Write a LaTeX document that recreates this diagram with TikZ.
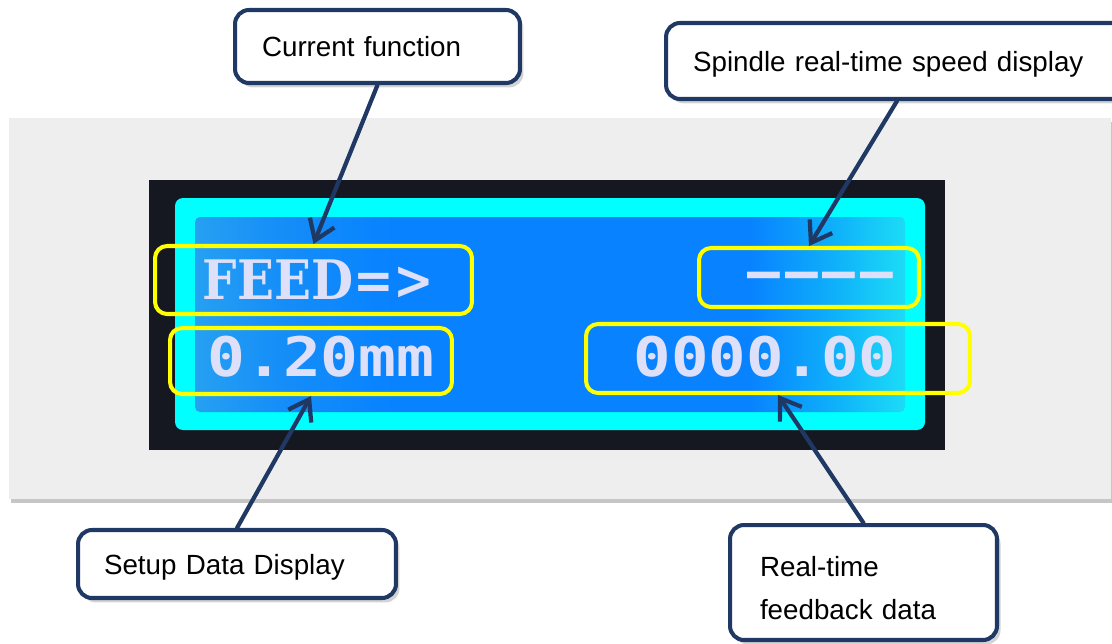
\documentclass[tikz,border=0pt]{standalone}
\usepackage{fontspec}
\setmainfont{Liberation Sans}
\newfontfamily\lcdserif{DejaVu Serif}
\newfontfamily\lcddigits{DejaVu Sans Mono}
\usetikzlibrary{shadows,arrows.meta}

\definecolor{navy}{HTML}{1F3864}
\definecolor{panelgray}{HTML}{EEEEEE}
\definecolor{framecol}{HTML}{151821}
\definecolor{lcdcyan}{HTML}{00FFFF}
\definecolor{lcdtext}{HTML}{DDE0F8}
\definecolor{hl}{HTML}{FFFF00}
\definecolor{lcdA}{HTML}{26A0F2}
\definecolor{lcdB}{HTML}{158EF8}
\definecolor{lcdC}{HTML}{0882FF}
\definecolor{lcdD}{HTML}{0FB0FA}
\definecolor{lcdE}{HTML}{1CDCF6}
\pgfdeclarehorizontalshading{lcdshade}{100bp}{color(0bp)=(lcdA); color(25bp)=(lcdA); color(31bp)=(lcdB); color(39bp)=(lcdC); color(64bp)=(lcdC); color(70bp)=(lcdD); color(75bp)=(lcdE); color(100bp)=(lcdE)}

\newcommand{\lcddash}{\scalebox{1.0}[1]{–}}

\tikzset{
  callout/.style={draw=navy, line width=2.3pt, fill=white, rounded corners=0.28cm,
    align=left, inner ysep=0pt,
    drop shadow={shadow xshift=2pt, shadow yshift=-2.5pt, opacity=0.35},
    font=\fontsize{15.8}{23.2}\selectfont},
  oneline/.style={text height=11.4pt, text depth=0pt},
  hlbox/.style={draw=hl, line width=2.3pt, rounded corners=0.24cm, inner sep=0pt},
  lcdtxt/.style={text=lcdtext, inner sep=0pt},
  pointer/.style={navy, line width=2.4pt, line cap=round,
    -{Straight Barb[length=11pt,width=15pt]}},
}

\begin{document}
\begin{tikzpicture}[x=0.02cm, y=-0.02cm]
\useasboundingbox (0,0) rectangle (1112,643);

% panel and display
\fill[panelgray, drop shadow={shadow xshift=1pt, shadow yshift=-2.5pt, opacity=0.45}]
  (9,118) rectangle (1111,499);
\fill[framecol] (149,180) rectangle (945,450);
\fill[lcdcyan, rounded corners=0.16cm] (175,198) rectangle (925,430);
\shade[shading=lcdshade, rounded corners=0.1cm] (195,217) rectangle (905,412);

% LCD texts
\node[lcdtxt, font=\lcdserif\bfseries\fontsize{31}{31}\selectfont] (tfeed) at (318.5,280) {\scalebox{0.89}[1]{FEED=>}};
\node[lcdtxt, font=\lcddigits\bfseries\fontsize{31}{31}\selectfont] (tmm) at (321,357) {\scalebox{1.155}[1]{0.20mm}};
\node[lcdtxt, font=\lcddigits\bfseries\fontsize{31}{31}\selectfont] (tnum) at (765,357) {\scalebox{1.145}[1]{0000.00}};
\node[lcdtxt, font=\lcddigits\bfseries\fontsize{31}{31}\selectfont] (tdash) at (820.5,281) {\lcddash\kern2.8pt\lcddash\kern2.8pt\lcddash\kern2.8pt\lcddash};

% yellow highlight boxes
\node[hlbox, minimum width=6.34cm, minimum height=1.36cm] (feed) at (313.5,280) {};
\node[hlbox, minimum width=5.64cm, minimum height=1.32cm] (mm) at (311,361) {};
\node[hlbox, minimum width=4.40cm, minimum height=1.18cm] (dash) at (809,277.5) {};
\node[hlbox, minimum width=7.68cm, minimum height=1.38cm] (num) at (778,358.5) {};

% callouts
\node[callout, oneline, minimum width=5.70cm, minimum height=1.46cm, text width=4.62cm, inner xsep=0.54cm] (cf) at (377.5,46.5) {Current function};
\node[callout, oneline, minimum width=9.24cm, minimum height=1.52cm, text width=8.16cm, inner xsep=0.54cm] (sp) at (897,61) {Spindle real-time speed display};
\node[callout, oneline, minimum width=6.36cm, minimum height=1.36cm, text width=5.32cm, inner xsep=0.52cm] (sd) at (237,564) {Setup Data Display};
\node[callout, minimum width=5.34cm, minimum height=2.30cm, text width=4.14cm, inner xsep=0.60cm] (rt) at (863.5,582.5) {\rule{0pt}{17.7pt}Real-time\\[1pt]feedback data};

% pointers
\draw[pointer] (cf.south) -- (feed.north);
\draw[pointer] (sp.south) -- (dash.north);
\draw[pointer] (sd.north) -- (mm.south);
\draw[pointer] (rt.north) -- (num.south);
\end{tikzpicture}
\end{document}
